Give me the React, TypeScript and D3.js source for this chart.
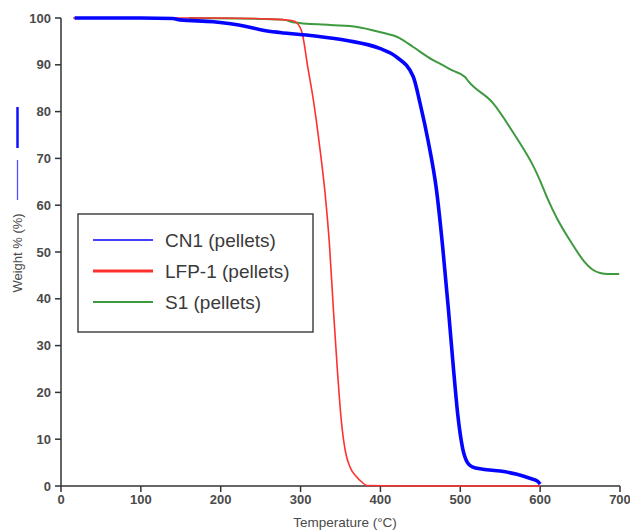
import React from "react";
import * as d3 from "d3";

const xTicks = [0, 100, 200, 300, 400, 500, 600, 700];
const yTicks = [0, 10, 20, 30, 40, 50, 60, 70, 80, 90, 100];

const cn1T = [17, 100, 140, 149, 191, 232, 253, 274, 316, 358, 399, 420, 441, 450, 460, 470, 478, 485, 491, 497, 503, 509, 515, 528, 550, 571, 588, 597, 600];
const cn1W = [100, 100, 99.9, 99.6, 99.2, 98.2, 97.4, 96.9, 96.2, 95.2, 93.5, 91.7, 87.5, 81.5, 73.5, 63.5, 51, 38, 26, 15, 8, 5, 4.1, 3.6, 3.2, 2.5, 1.6, 1.0, 0.4];

const lfpT = [15, 100, 200, 257, 280, 290, 295, 302, 309, 316, 324, 331, 336, 341, 346, 351, 356, 362, 370, 377, 383, 427, 600];
const lfpW = [100, 100, 100, 99.8, 99.6, 99.4, 99, 96.8, 89.5, 82.5, 72.4, 62, 52, 38, 25, 14, 7.5, 4, 2, 0.8, 0.1, 0, 0];

const s1T = [160, 250, 280, 290, 337, 371, 399, 424, 441, 466, 475, 490, 506, 510, 541, 566, 580, 591, 600, 609, 621, 641, 655, 665, 675, 685, 699];
const s1W = [100, 99.8, 99.6, 99.1, 98.5, 98.1, 97.0, 95.7, 93.8, 91, 90.2, 88.8, 87.4, 86.5, 81.8, 75.6, 71.8, 68.5, 65.2, 61.5, 57.2, 51.5, 48, 46.3, 45.5, 45.3, 45.3];

const seriesNames = ["CN1 (pellets)", "LFP-1 (pellets)", "S1 (pellets)"];

export default function App() {
  const x = d3.scaleLinear().domain([0, 700]).range([61, 620]);
  const y = d3.scaleLinear().domain([0, 100]).range([486, 18]);
  const line = d3
    .line<[number, number]>()
    .x((d) => x(d[0]))
    .y((d) => y(d[1]))
    .curve(d3.curveMonotoneX);
  const zip = (a: number[], b: number[]) => a.map((v, i) => [v, b[i]] as [number, number]);

  const series = [
    { name: seriesNames[2], data: zip(s1T, s1W), color: "#3f9a3f", width: 2, lw: 2 },
    { name: seriesNames[1], data: zip(lfpT, lfpW), color: "#ff3030", width: 1.6, lw: 3 },
    { name: seriesNames[0], data: zip(cn1T, cn1W), color: "#0505ff", width: 3.6, lw: 1.5 },
  ];
  const legendOrder = [series[2], series[1], series[0]];
  const labelColor = "#4a4a4a";
  const font = "'Liberation Sans', Arial, sans-serif";

  return (
    <svg width={630} height={532} style={{ position: "absolute", left: 0, top: 0, background: "#fff" }} fontFamily={font}>
      {/* axes */}
      <line x1={x(0)} x2={x(0)} y1={y(100)} y2={y(0)} stroke="#333" strokeWidth={1.5} />
      <line x1={x(0)} x2={x(700)} y1={y(0)} y2={y(0)} stroke="#333" strokeWidth={1.5} />
      {yTicks.map((t) => (
        <g key={"y" + t}>
          <line x1={x(0) - 6} x2={x(0)} y1={y(t)} y2={y(t)} stroke="#333" strokeWidth={1.5} />
          <text x={51} y={y(t) + 4.5} textAnchor="end" fontSize={13} fontWeight="bold" fill={labelColor}>
            {t}
          </text>
        </g>
      ))}
      {xTicks.map((t) => (
        <g key={"x" + t}>
          <line x1={x(t)} x2={x(t)} y1={y(0)} y2={y(0) + 6} stroke="#333" strokeWidth={1.5} />
          <text x={x(t)} y={504} textAnchor="middle" fontSize={13} fontWeight="bold" fill={labelColor}>
            {t}
          </text>
        </g>
      ))}
      <text x={345} y={527} textAnchor="middle" fontSize={13.5} fill={labelColor}>
        Temperature (°C)
      </text>
      <text transform="translate(22,253) rotate(-90)" textAnchor="middle" fontSize={13} fill={labelColor}>
        Weight % (%)
      </text>
      <line x1={17.5} x2={17.5} y1={107} y2={148} stroke="#1010ff" strokeWidth={2.5} />
      <line x1={17.5} x2={17.5} y1={160} y2={200} stroke="#5050ff" strokeWidth={1.3} />

      {/* series */}
      {series.map((s) => (
        <path key={s.name} d={line(s.data) || ""} fill="none" stroke={s.color} strokeWidth={s.width} strokeLinejoin="round" />
      ))}

      {/* legend */}
      <rect x={78} y={214} width={235} height={118} fill="#fff" stroke="#444" strokeWidth={1.5} />
      {legendOrder.map((s, i) => (
        <g key={"l" + i}>
          <line x1={93} x2={153} y1={240 + i * 31} y2={240 + i * 31} stroke={s.color} strokeWidth={s.lw} />
          <text x={165} y={240 + i * 31 + 6.5} fontSize={19} fill="#3a3a3a">
            {s.name}
          </text>
        </g>
      ))}
    </svg>
  );
}
